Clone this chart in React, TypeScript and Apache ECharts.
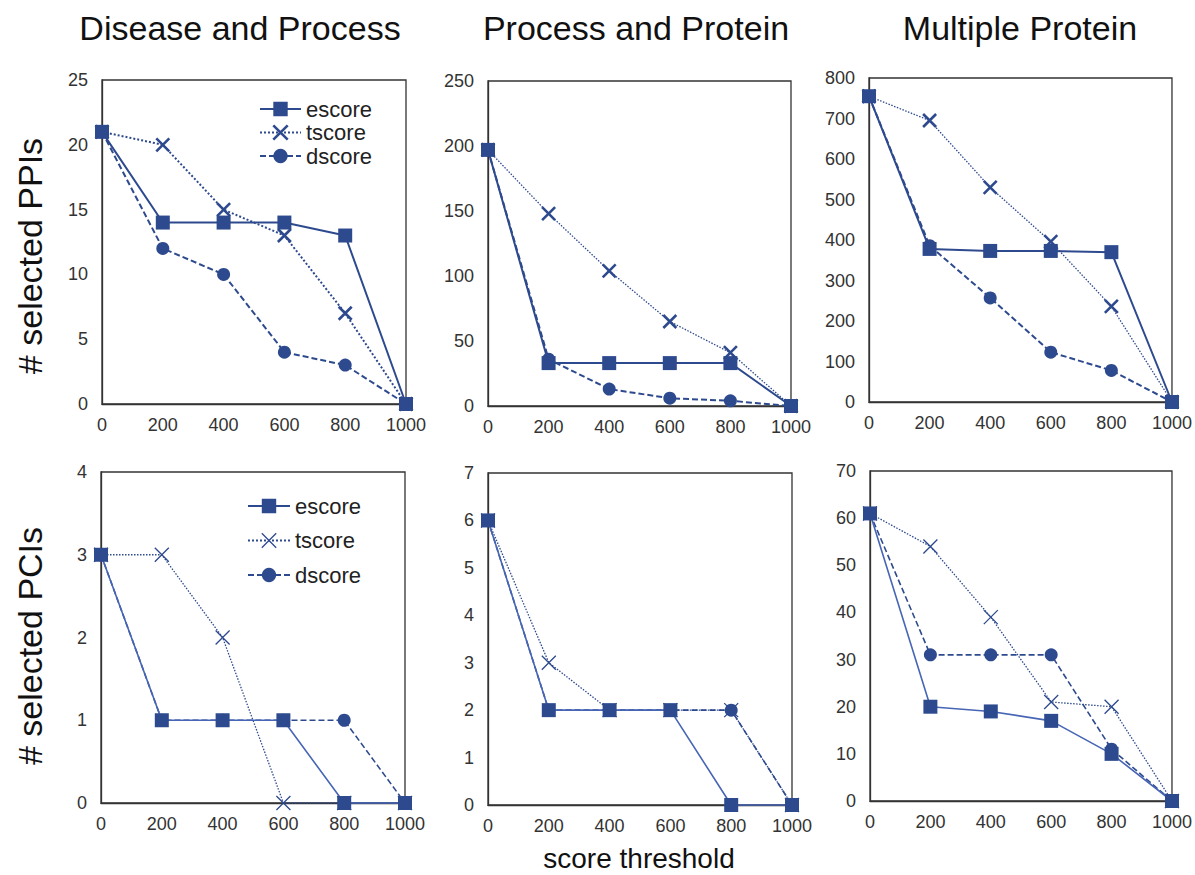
import React, { useEffect, useRef } from "react";
import * as echarts from "echarts";

// ---- data ----
const thresholds = [0, 200, 400, 600, 800, 1000];

// PPIs (top row)
const ppiDiseaseProcessE = [21, 14, 14, 14, 13, 0];
const ppiDiseaseProcessT = [21, 20, 15, 13, 7, 0];
const ppiDiseaseProcessD = [21, 12, 10, 4, 3, 0];

const ppiProcessProteinE = [197, 33, 33, 33, 33, 0];
const ppiProcessProteinT = [197, 148, 104, 65, 41, 0];
const ppiProcessProteinD = [197, 36, 13, 6, 4, 0];

const ppiMultipleProteinE = [755, 378, 373, 373, 370, 0];
const ppiMultipleProteinT = [755, 695, 530, 396, 236, 0];
const ppiMultipleProteinD = [755, 386, 257, 123, 78, 0];

// PCIs (bottom row)
const pciDiseaseProcessE = [3, 1, 1, 1, 0, 0];
const pciDiseaseProcessT = [3, 3, 2, 0, 0, 0];
const pciDiseaseProcessD = [3, 1, 1, 1, 1, 0];

const pciProcessProteinE = [6, 2, 2, 2, 0, 0];
const pciProcessProteinT = [6, 3, 2, 2, 2, 0];
const pciProcessProteinD = [6, 2, 2, 2, 2, 0];

const pciMultipleProteinE = [61, 20, 19, 17, 10, 0];
const pciMultipleProteinT = [61, 54, 39, 21, 20, 0];
const pciMultipleProteinD = [61, 31, 31, 31, 11, 0];

const yMax = [25, 250, 800, 4, 7, 70];
const yStep = [5, 50, 100, 1, 1, 10];

const columnTitles = ["Disease and Process", "Process and Protein", "Multiple Protein"];
const rowTitles = ["# selected PPIs", "# selected PCIs"];
const xTitle = "score threshold";
const seriesNames = ["escore", "tscore", "dscore"];

const panelData = [
  [ppiDiseaseProcessE, ppiDiseaseProcessT, ppiDiseaseProcessD],
  [ppiProcessProteinE, ppiProcessProteinT, ppiProcessProteinD],
  [ppiMultipleProteinE, ppiMultipleProteinT, ppiMultipleProteinD],
  [pciDiseaseProcessE, pciDiseaseProcessT, pciDiseaseProcessD],
  [pciProcessProteinE, pciProcessProteinT, pciProcessProteinD],
  [pciMultipleProteinE, pciMultipleProteinT, pciMultipleProteinD],
];

// ---- layout ----
const gridBoxes = [
  { left: 102, top: 80, width: 304, height: 324 },
  { left: 488, top: 81, width: 303, height: 325 },
  { left: 869, top: 78, width: 303, height: 324 },
  { left: 101, top: 472, width: 304, height: 331 },
  { left: 488, top: 473, width: 304, height: 332 },
  { left: 870, top: 471, width: 303, height: 330 },
];

const FONT = "'Liberation Sans', Arial, sans-serif";
const NAVY = "#2e4a8e";
const LINE_TOP = "#2e4a8e";
const LINE_BOTTOM = "#4765b5";
const CROSS = "path://M0,0L10,10M10,0L0,10";

function buildOption() {
  const grid = gridBoxes.map((b) => ({ ...b, show: true, borderColor: "#333", borderWidth: 1.3, backgroundColor: "transparent" }));
  const xAxis = gridBoxes.map((_, i) => ({
    type: "value",
    gridIndex: i,
    min: 0,
    max: 1000,
    interval: 200,
    axisLine: { show: true, lineStyle: { color: "#333", width: 1.3 } },
    axisTick: { show: false },
    splitLine: { show: false },
    axisLabel: { fontSize: 18, color: "#333", fontFamily: FONT, margin: 12, formatter: (v: number) => String(v) },
  }));
  const yAxis = gridBoxes.map((_, i) => ({
    type: "value",
    gridIndex: i,
    min: 0,
    max: yMax[i],
    interval: yStep[i],
    axisLine: { show: true, lineStyle: { color: "#333", width: 1.3 } },
    axisTick: { show: false },
    splitLine: { show: false },
    axisLabel: { fontSize: 18, color: "#333", fontFamily: FONT, margin: 14, formatter: (v: number) => String(v) },
  }));

  const series: any[] = [];
  panelData.forEach((sets, i) => {
    const top = i < 3;
    const lineColor = top ? LINE_TOP : LINE_BOTTOM;
    // draw order: tscore, dscore, escore (escore on top)
    [1, 2, 0].forEach((k) => {
      const vals = sets[k];
      const data = thresholds.map((x, j) => [x, vals[j]]);
      const base: any = {
        name: seriesNames[k],
        type: "line",
        xAxisIndex: i,
        yAxisIndex: i,
        data,
        clip: false,
        emphasis: { disabled: true },
      };
      if (k === 0) {
        base.symbol = "rect";
        base.symbolSize = 14;
        base.itemStyle = { color: NAVY };
        base.lineStyle = { color: lineColor, width: top ? 2 : 1.6, type: "solid" };
      } else if (k === 1) {
        base.symbol = CROSS;
        base.symbolSize = top ? 13 : 14;
        base.itemStyle = { color: NAVY, borderColor: NAVY, borderWidth: top ? 2.6 : 1.3 };
        base.lineStyle = { color: NAVY, width: top && i === 0 ? 2 : 1.3, type: top && i === 0 ? [2, 2] : [1.5, 1.5] };
      } else {
        base.symbol = "circle";
        base.symbolSize = 13;
        base.itemStyle = { color: NAVY };
        base.lineStyle = { color: NAVY, width: top ? 2 : 1.6, type: [6, 3] };
      }
      series.push(base);
    });
  });

  const legendText = { fontSize: 22, color: "#222", fontFamily: FONT, lineHeight: 16 };
  const legendData = (top: boolean) => [
    { name: "escore" },
    { name: "tscore", itemStyle: { borderWidth: top ? 2.6 : 1.3 } },
    { name: "dscore" },
  ];
  const legend = [
    {
      orient: "vertical",
      left: 254,
      top: 93,
      itemWidth: 41,
      itemHeight: 18,
      itemGap: 1.5,
      selectedMode: false,
      textStyle: legendText,
      data: legendData(true),
    },
    {
      orient: "vertical",
      left: 242,
      top: 490,
      itemWidth: 42,
      itemHeight: 18,
      itemGap: 12.5,
      selectedMode: false,
      textStyle: legendText,
      data: legendData(false),
    },
  ];

  const titleX = [240, 636, 1020];
  const graphic: any[] = [];
  columnTitles.forEach((t, i) => {
    graphic.push({
      type: "text",
      x: titleX[i],
      y: 28,
      style: { text: t, fontSize: 34, fontFamily: FONT, fill: "#111", align: "center", verticalAlign: "middle" },
    });
  });
  const rowY = [256, 646];
  rowTitles.forEach((t, i) => {
    graphic.push({
      type: "text",
      x: 30,
      y: rowY[i],
      rotation: Math.PI / 2,
      style: { text: t, fontSize: 34, fontFamily: FONT, fill: "#111", align: "center", verticalAlign: "middle" },
    });
  });
  graphic.push({
    type: "text",
    x: 639,
    y: 858,
    style: { text: xTitle, fontSize: 28, fontFamily: FONT, fill: "#111", align: "center", verticalAlign: "middle" },
  });

  return {
    animation: false,
    backgroundColor: "#fff",
    grid,
    xAxis,
    yAxis,
    series,
    legend,
    graphic,
  };
}

export default function App() {
  const ref = useRef<HTMLDivElement>(null);
  useEffect(() => {
    if (!ref.current) return;
    const chart = echarts.init(ref.current, null, { renderer: "svg" });
    chart.setOption(buildOption() as any);
    return () => chart.dispose();
  }, []);
  return <div ref={ref} style={{ position: "fixed", left: 0, top: 0, width: 1195, height: 875 }} />;
}
